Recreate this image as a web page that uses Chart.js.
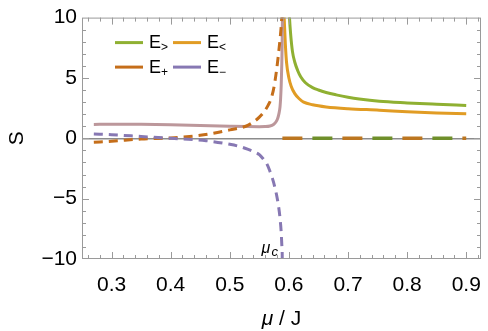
<!doctype html>
<html lang="en">
<head>
<meta charset="utf-8">
<title>S vs mu / J</title>
<style>
  * { margin: 0; padding: 0; }
  body { background: #fff; }
  .chart-container { position: relative; width: 488px; height: 331px; }
</style>
</head>
<body>
<div class="chart-container"><canvas id="myChart"></canvas></div>

<script src="https://cdn.jsdelivr.net/npm/chart.js"></script>
<script>
  // tick labels
  const xTicks = [0.3, 0.4, 0.5, 0.6, 0.7, 0.8, 0.9];
  const yTicks = [-10, -5, 0, 5, 10];
  const muC = 0.589; // critical point, where the label sits

  // mu < mu_c : solid curve (both branches together)
  const muLowSolid = [0.27, 0.30, 0.35, 0.40, 0.45, 0.50, 0.53, 0.55, 0.56, 0.568, 0.574, 0.578, 0.581, 0.583, 0.585, 0.586, 0.587, 0.588, 0.5885, 0.589, 0.5895];
  const sLowSolid  = [1.15, 1.17, 1.16, 1.12, 1.06, 1.00, 0.97, 0.96, 0.97, 1.02, 1.15, 1.35, 1.65, 2.0, 2.6, 3.3, 4.4, 6.2, 7.5, 9.5, 12.0];

  // mu < mu_c : E+ dashed
  const muLowEp = [0.27, 0.30, 0.35, 0.40, 0.45, 0.47, 0.50, 0.527, 0.54, 0.55, 0.558, 0.565, 0.57, 0.575, 0.579, 0.582, 0.585, 0.587, 0.588, 0.589];
  const sLowEp  = [-0.33, -0.25, -0.06, 0.03, 0.25, 0.40, 0.70, 1.0, 1.35, 1.75, 2.2, 2.75, 3.3, 4.3, 5.6, 6.8, 8.2, 9.3, 10.1, 11.5];

  // mu < mu_c : E- dashed
  const muLowEm = [0.27, 0.30, 0.35, 0.40, 0.46, 0.50, 0.516, 0.53, 0.54, 0.55, 0.558, 0.562, 0.567, 0.572, 0.576, 0.58, 0.583, 0.585, 0.587, 0.588, 0.5887, 0.589];
  const sLowEm  = [0.36, 0.30, 0.15, 0.0, -0.2, -0.5, -0.67, -0.9, -1.1, -1.35, -1.8, -2.05, -2.6, -3.3, -4.0, -4.9, -5.8, -6.6, -7.8, -8.8, -9.6, -11.0];

  // mu > mu_c : E> and E<
  const muHighG = [0.5995, 0.601, 0.603, 0.606, 0.61, 0.615, 0.62, 0.628, 0.64, 0.65, 0.663, 0.68, 0.70, 0.719, 0.753, 0.80, 0.85, 0.90];
  const sHighG  = [11.5, 10.0, 8.6, 7.2, 6.3, 5.6, 5.1, 4.6, 4.2, 4.0, 3.8, 3.6, 3.4, 3.25, 3.06, 2.93, 2.82, 2.72];
  const muHighO = [0.5905, 0.592, 0.594, 0.596, 0.60, 0.604, 0.61, 0.617, 0.625, 0.64, 0.663, 0.70, 0.753, 0.80, 0.85, 0.90];
  const sHighO  = [12.0, 10.0, 7.8, 6.3, 5.0, 4.3, 3.7, 3.3, 3.0, 2.78, 2.6, 2.45, 2.33, 2.2, 2.1, 2.03];

  // mu > mu_c : E+ and E- lie on zero
  const muHighZero = [0.589, 0.90];
  const sHighZero  = [0, 0];

  const pts = (xs, ys) => xs.map((x, i) => ({ x: x, y: ys[i] }));

  const cGreen = '#8FB032', cOrange = '#E19C24', cDark = '#C56E1A', cPurple = '#8778B3';

  const line = (label, xs, ys, color, extra) => Object.assign({
    label: label,
    data: pts(xs, ys),
    borderColor: color,
    borderWidth: 3,
    pointRadius: 0,
    fill: false,
    cubicInterpolationMode: 'monotone'
  }, extra || {});

  const data = {
    datasets: [
      line('E+ (mu>muc)', muHighZero, sHighZero, '#BC7620', { borderDash: [20, 40], borderWidth: 3.5 }),
      line('E- (mu>muc)', muHighZero, sHighZero, '#6F8F2A', { borderDash: [20, 40], borderDashOffset: 30, borderWidth: 3.5 }),
      line('E-', muLowEm, sLowEm, cPurple, { borderDash: [9, 6] }),
      line('E+', muLowEp, sLowEp, cDark, { borderDash: [9, 6] }),
      line('solid', muLowSolid, sLowSolid, '#BC979B'),
      line('E<', muHighO, sHighO, cOrange),
      line('E>', muHighG, sHighG, cGreen)
    ]
  };

  const legendItems = [
    { sub: '>', color: cGreen, col: 0, row: 0 },
    { sub: '<', color: cOrange, col: 1, row: 0 },
    { sub: '+', color: cDark, col: 0, row: 1 },
    { sub: '\u2212', color: cPurple, col: 1, row: 1 }
  ];

  const framePlugin = {
    id: 'frame',
    afterDraw(chart) {
      const { ctx, chartArea: a, scales: { x, y } } = chart;
      ctx.save();
      ctx.strokeStyle = '#9a9a9a';
      ctx.lineWidth = 1;
      ctx.strokeRect(a.left + 0.5, a.top + 0.5, a.right - a.left - 1, a.bottom - a.top - 1);

      // inward ticks on all four sides
      ctx.beginPath();
      for (let k = 13; k <= 46; k++) {
        const px = Math.round(x.getPixelForValue(k * 0.02)) + 0.5;
        const len = k % 5 === 0 ? 7 : 4;
        ctx.moveTo(px, a.bottom); ctx.lineTo(px, a.bottom - len);
        ctx.moveTo(px, a.top); ctx.lineTo(px, a.top + len);
      }
      for (let v = -9; v <= 9; v++) {
        const py = Math.round(y.getPixelForValue(v)) + 0.5;
        const len = v % 5 === 0 ? 7 : 4;
        ctx.moveTo(a.left, py); ctx.lineTo(a.left + len, py);
        ctx.moveTo(a.right, py); ctx.lineTo(a.right - len, py);
      }
      ctx.stroke();

      // legend
      ctx.textAlign = 'left';
      ctx.textBaseline = 'alphabetic';
      legendItems.forEach(it => {
        const lx = a.left + 33 + it.col * 58;
        const ly = a.top + 25 + it.row * 24.5;
        ctx.strokeStyle = it.color;
        ctx.lineWidth = 3;
        ctx.beginPath();
        ctx.moveTo(lx, ly); ctx.lineTo(lx + 28, ly);
        ctx.stroke();
        ctx.fillStyle = '#000';
        ctx.font = '18px "Liberation Sans", Arial, sans-serif';
        ctx.fillText('E', lx + 34, ly + 5.5);
        ctx.font = '12px "Liberation Sans", Arial, sans-serif';
        ctx.fillText(it.sub, lx + 46, ly + 8.5);
      });

      // mu_c label
      const cx = x.getPixelForValue(muC);
      ctx.fillStyle = '#000';
      ctx.font = 'italic 16px "Liberation Sans", Arial, sans-serif';
      ctx.fillText('\u03bc', cx - 21, a.bottom - 6);
      ctx.font = 'italic 13px "Liberation Sans", Arial, sans-serif';
      ctx.fillText('c', cx - 11, a.bottom - 3);

      // axis titles
      ctx.font = 'italic 21px "Liberation Sans", Arial, sans-serif';
      const w1 = ctx.measureText('\u03bc').width;
      ctx.font = '21px "Liberation Sans", Arial, sans-serif';
      const w2 = ctx.measureText(' / J').width;
      const tx = (a.left + a.right) / 2 - (w1 + w2) / 2;
      ctx.font = 'italic 21px "Liberation Sans", Arial, sans-serif';
      ctx.fillText('\u03bc', tx, 325);
      ctx.font = '21px "Liberation Sans", Arial, sans-serif';
      ctx.fillText(' / J', tx + w1, 325);

      ctx.translate(23, (a.top + a.bottom) / 2);
      ctx.rotate(-Math.PI / 2);
      ctx.textAlign = 'center';
      ctx.fillText('S', 0, 0);
      ctx.restore();
    }
  };

  const tickFont = { family: '"Liberation Sans", Arial, sans-serif', size: 21 };

  const config = {
    type: 'line',
    data,
    options: {
      responsive: true,
      maintainAspectRatio: false,
      animation: false,
      layout: { padding: { left: 0, right: 7, top: 13, bottom: 0 } },
      plugins: {
        legend: { display: false },
        tooltip: { enabled: false }
      },
      scales: {
        x: {
          type: 'linear',
          min: 0.25,
          max: 0.925,
          afterBuildTicks: s => { s.ticks = xTicks.map(v => ({ value: v })); },
          afterFit: s => { s.height = 72; },
          grid: { display: false },
          border: { display: false },
          ticks: {
            color: '#000',
            font: tickFont,
            padding: 6,
            maxRotation: 0,
            autoSkip: false,
            callback: v => v.toFixed(1)
          }
        },
        y: {
          min: -10,
          max: 10,
          afterBuildTicks: s => { s.ticks = yTicks.map(v => ({ value: v })); },
          afterFit: s => { s.width = 82; },
          grid: {
            drawTicks: false,
            lineWidth: 1.6,
            color: c => (c.tick && c.tick.value === 0) ? '#8c8c8c' : 'rgba(0,0,0,0)'
          },
          border: { display: false },
          ticks: {
            color: '#000',
            font: tickFont,
            padding: 5,
            callback: v => (v < 0 ? '\u2212' + Math.abs(v) : '' + v)
          }
        }
      }
    },
    plugins: [framePlugin]
  };

  const myChart = new Chart(document.getElementById('myChart'), config);
</script>
</body>
</html>
